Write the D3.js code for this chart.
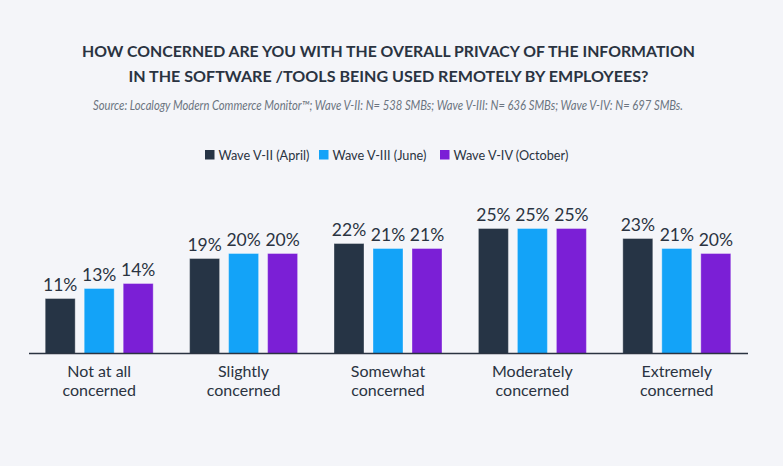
<!DOCTYPE html>
<html>
<head>
<meta charset="utf-8">
<script src="https://cdn.jsdelivr.net/npm/d3@7"></script>
<style>
  html, body { margin: 0; padding: 0; background: #f4f5f9; }
  svg { display: block; font-family: Lato, "Noto Sans", sans-serif; }
</style>
</head>
<body>
<svg id="chart" width="783" height="466"></svg>
<script>
const categories = [["Not at all", "concerned"], ["Slightly", "concerned"], ["Somewhat", "concerned"], ["Moderately", "concerned"], ["Extremely", "concerned"]]
const seriesNames = ["Wave V-II (April)", "Wave V-III (June)", "Wave V-IV (October)"]
const waveII = [11, 19, 22, 25, 23]
const waveIII = [13, 20, 21, 25, 21]
const waveIV = [14, 20, 21, 25, 20]
const seriesColors = ["#263445", "#13a3f8", "#7b1fd6"]

const titleLines = [
    "HOW CONCERNED ARE YOU WITH THE OVERALL PRIVACY OF THE INFORMATION",
    "IN THE SOFTWARE /TOOLS BEING USED REMOTELY BY EMPLOYEES?"
]
const sourceText = "Source: Localogy Modern Commerce Monitor\u2122; Wave V-II: N= 538 SMBs; Wave V-III: N= 636 SMBs; Wave V-IV: N= 697 SMBs."

const textColor = "#2a3341"
const svg = d3.select("#chart")

// title and source (squeezed a bit, the original face is narrower)
const titleWidths = [613, 520]
svg.append("g")
    .selectAll("text")
    .data(titleLines)
    .enter()
    .append("text")
    .attr("x", 388.5)
    .attr("y", (d, i) => 57 + i * 24.5)
    .attr("text-anchor", "middle")
    .attr("font-size", "16px")
    .attr("font-weight", 700)
    .attr("fill", textColor)
    .attr("textLength", (d, i) => titleWidths[i])
    .attr("lengthAdjust", "spacingAndGlyphs")
    .text(d => d)

svg.append("text")
    .attr("x", 388)
    .attr("y", 110)
    .attr("text-anchor", "middle")
    .attr("font-size", "12.5px")
    .attr("font-style", "italic")
    .attr("fill", "#6b7480")
    .attr("textLength", 590)
    .attr("lengthAdjust", "spacingAndGlyphs")
    .text(sourceText)

// legend
const legend = svg.append("g")
const legendX = [205, 319, 440]
seriesNames.forEach((name, i) => {
    const item = legend.append("g").attr("transform", `translate(${legendX[i]},150)`)
    item.append("rect")
        .attr("width", 9.5)
        .attr("height", 9.5)
        .attr("fill", seriesColors[i])
    item.append("text")
        .attr("x", 13.5)
        .attr("y", 10)
        .attr("font-size", "12.7px")
        .attr("fill", textColor)
        .text(name)
})

// bars
const series = [waveII, waveIII, waveIV]
const baseline = 353.5
const x0 = d3.scaleBand()
    .domain(d3.range(categories.length))
    .range([27, 749])
const x1 = d3.scaleBand()
    .domain(d3.range(series.length))
    .range([0, 108])
    .paddingInner(9 / 39)
const y = d3.scaleLinear()
    .domain([0, 25])
    .range([baseline, baseline - 125])

const groups = svg.append("g")
    .selectAll("g")
    .data(categories)
    .enter()
    .append("g")
    .attr("transform", (d, i) => `translate(${x0(i) + x0.bandwidth() / 2 - 54},0)`)

groups.each(function (cat, ci) {
    const g = d3.select(this)
    series.forEach((values, si) => {
        g.append("rect")
            .attr("x", x1(si))
            .attr("y", y(values[ci]))
            .attr("width", x1.bandwidth())
            .attr("height", baseline - y(values[ci]))
            .attr("fill", seriesColors[si])
            .attr("stroke", "rgba(255,255,255,0.35)")
            .attr("stroke-width", 1)
        g.append("text")
            .attr("x", x1(si) + x1.bandwidth() / 2)
            .attr("y", y(values[ci]) - 8)
            .attr("text-anchor", "middle")
            .attr("font-size", "17.5px")
            .attr("fill", textColor)
            .text(values[ci] + "%")
    })
})

// axis line and category labels
svg.append("line")
    .attr("x1", 29)
    .attr("x2", 748)
    .attr("y1", baseline)
    .attr("y2", baseline)
    .attr("stroke", textColor)
    .attr("stroke-width", 1.5)

const labels = svg.append("g")
categories.forEach((lines, i) => {
    lines.forEach((line, li) => {
        labels.append("text")
            .attr("x", x0(i) + x0.bandwidth() / 2)
            .attr("y", 376.5 + li * 19.4)
            .attr("text-anchor", "middle")
            .attr("font-size", "16px")
            .attr("fill", textColor)
            .text(line)
    })
})
</script>
</body>
</html>
